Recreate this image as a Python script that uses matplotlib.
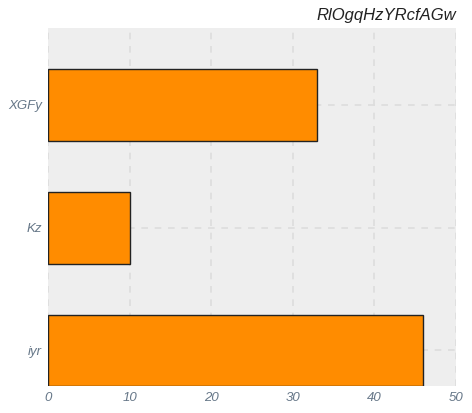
import matplotlib
matplotlib.use("Agg")
import matplotlib.pyplot as plt

categories = ["iyr", "Kz", "XGFy"]
values = [46, 10, 33]
title = "RlOgqHzYRcfAGw"

plt.rcParams['font.family'] = ['Liberation Sans', 'DejaVu Sans']

fig = plt.figure(figsize=(4.72, 4.13), dpi=100)
ax = fig.add_axes([48/472, 1-386/413, (456-48)/472, (386-28)/413])
ax.set_facecolor("#eeeeee")
ax.barh(categories, values, height=0.585, color="#ff8c00", edgecolor="#222222", linewidth=1, zorder=3)
ax.set_xlim(0, 50)
ax.set_ylim(-0.29, 2.627)
ax.set_xticks([0, 10, 20, 30, 40, 50])
ax.grid(True, color="#dddddd", linestyle=(0, (4, 4)), linewidth=1.2, zorder=0)
ax.set_axisbelow(True)
for s in ax.spines.values():
    s.set_visible(False)
ax.tick_params(axis="y", length=0, labelsize=9.5, labelcolor="#667788", pad=4.5)
ax.tick_params(axis="x", length=0, labelsize=9.5, labelcolor="#667788", pad=4)
for lab in ax.get_xticklabels() + ax.get_yticklabels():
    lab.set_fontstyle("italic")
ax.set_title(title, loc="right", fontstyle="italic", fontsize=12, color="#222222", pad=6)
fig.savefig("out.png", dpi=100)
